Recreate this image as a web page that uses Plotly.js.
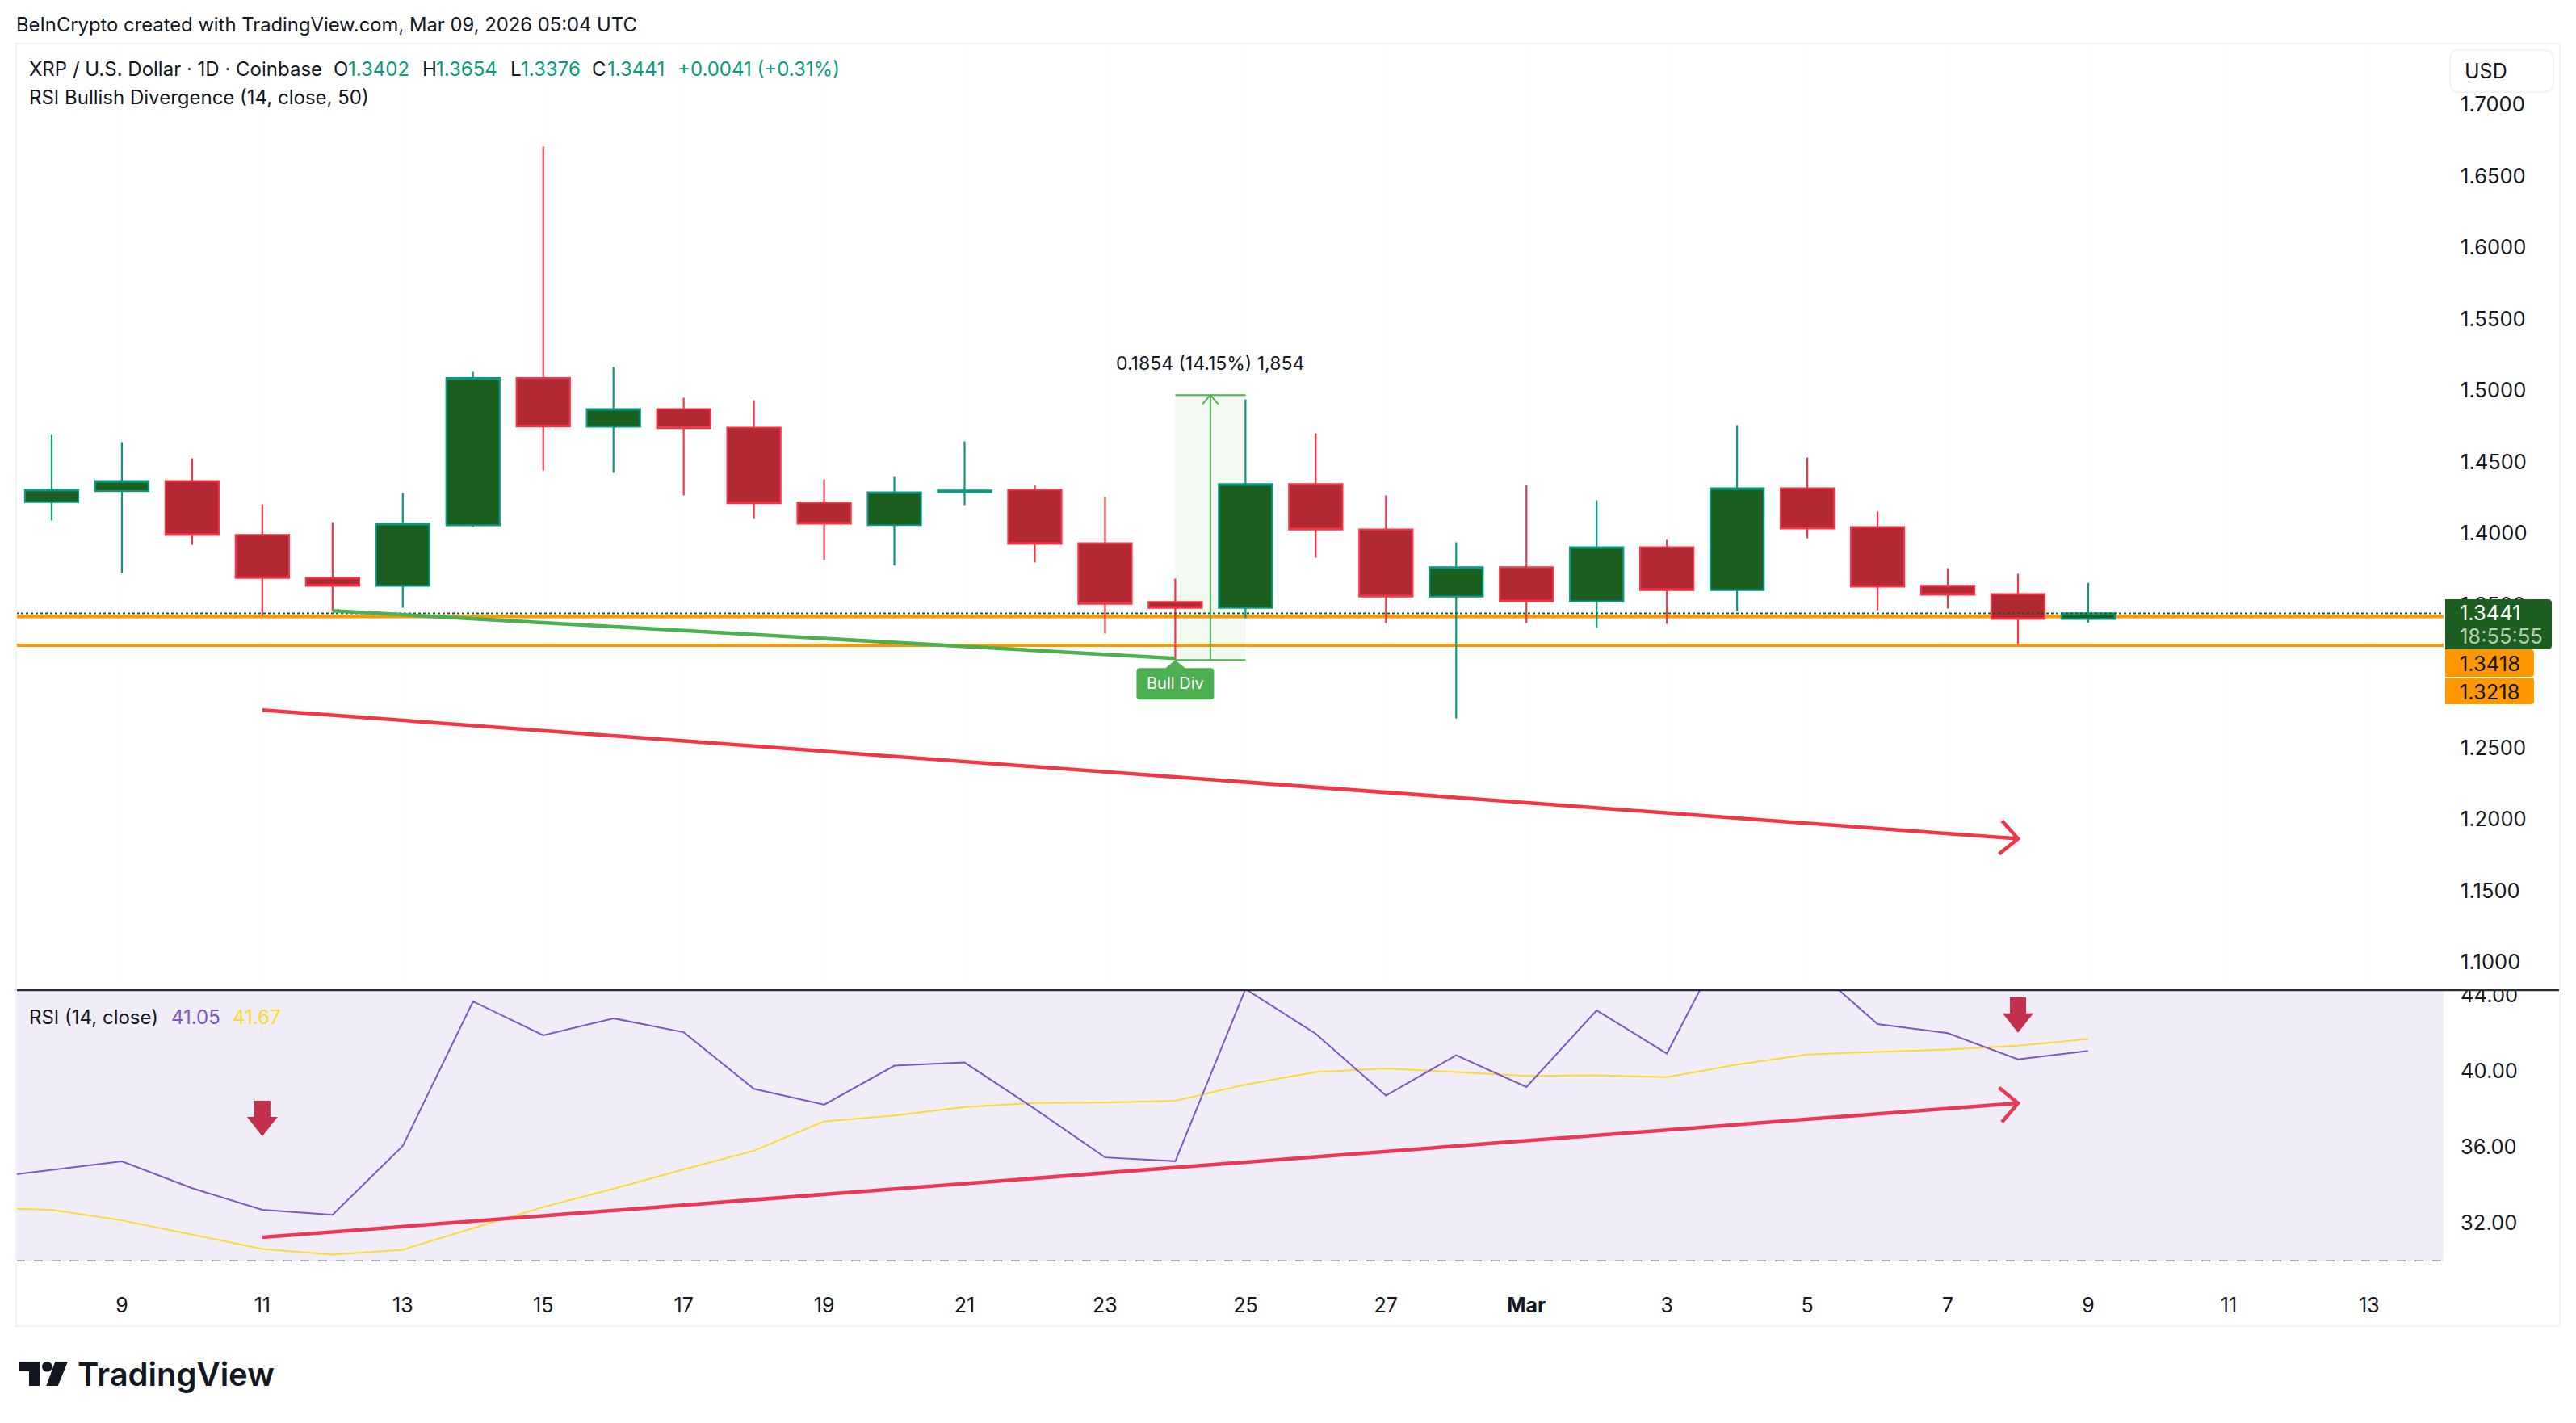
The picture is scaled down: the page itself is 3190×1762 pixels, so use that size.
<!DOCTYPE html>
<html><head><meta charset="utf-8">
<script src="https://cdn.plot.ly/plotly-3.0.1.min.js"></script>
<style>html,body{margin:0;padding:0;background:#fff}</style></head>
<body><div id="chart" style="width:3190px;height:1762px"></div>
<script>
// ---- candles ----
const dates = ['2026-02-08','2026-02-09','2026-02-10','2026-02-11','2026-02-12','2026-02-13','2026-02-14','2026-02-15','2026-02-16','2026-02-17','2026-02-18','2026-02-19','2026-02-20','2026-02-21','2026-02-22','2026-02-23','2026-02-24','2026-02-25','2026-02-26','2026-02-27','2026-02-28','2026-03-01','2026-03-02','2026-03-03','2026-03-04','2026-03-05','2026-03-06','2026-03-07','2026-03-08','2026-03-09'];
const opens  = [1.4220,1.4296,1.4367,1.3989,1.3689,1.3633,1.4057,1.5087,1.4746,1.4870,1.4740,1.4215,1.4058,1.4288,1.4305,1.3932,1.3520,1.3480,1.4345,1.4028,1.3559,1.3763,1.3525,1.3904,1.3604,1.4316,1.4045,1.3633,1.3576,1.3402];
const highs  = [1.4689,1.4638,1.4525,1.4203,1.4079,1.4282,1.5130,1.6706,1.5164,1.4949,1.4932,1.4379,1.4396,1.4644,1.4339,1.4254,1.3684,1.4938,1.4701,1.4265,1.3938,1.4339,1.4232,1.3955,1.4757,1.4531,1.4153,1.3757,1.3718,1.3654];
const lows   = [1.4090,1.3723,1.3921,1.3424,1.3458,1.3480,1.4045,1.4441,1.4424,1.4266,1.4102,1.3813,1.3776,1.4198,1.3797,1.3299,1.3115,1.3407,1.3831,1.3373,1.2706,1.3373,1.3339,1.3367,1.3458,1.3966,1.3463,1.3475,1.3220,1.3376];
const closes = [1.4305,1.4367,1.3989,1.3689,1.3633,1.4068,1.5087,1.4748,1.4870,1.4737,1.4211,1.4068,1.4288,1.4300,1.3927,1.3508,1.3480,1.4345,1.4028,1.3559,1.3763,1.3525,1.3904,1.3604,1.4316,1.4034,1.3627,1.3571,1.3401,1.3441];
// ---- RSI pane ----
const rsiDates = ['2026-02-07'].concat(dates);
const rsiValues = [34.34,34.79,35.24,33.83,32.70,32.43,36.05,43.65,41.87,42.76,42.03,39.05,38.22,40.27,40.44,38.00,35.45,35.25,44.30,41.95,38.70,40.82,39.15,43.18,40.91,48.00,45.70,42.46,41.98,40.60,41.05];
const rsiMaValues = [32.80,32.70,32.14,31.39,30.64,30.34,30.60,31.73,32.84,33.80,34.82,35.80,37.34,37.65,38.10,38.31,38.33,38.43,39.28,39.93,40.13,39.93,39.73,39.76,39.67,40.33,40.86,41.00,41.12,41.32,41.67];
// ---- price levels ----
const lastPrice = 1.3441, levelA = 1.3418, levelB = 1.3218, rsiFloor = 30;
// ---- drawings ----
const priceArrowX = ['2026-02-11','2026-03-08'];
const priceArrowY = [1.2764,1.1864];
const priceHeadX = ['2026-03-07 18:30','2026-03-08','2026-03-07 17:30'];
const priceHeadY = [1.1990,1.1864,1.1757];
const rsiArrowX = ['2026-02-11','2026-03-08'];
const rsiArrowY = [31.25,38.30];
const rsiHeadX = ['2026-03-07 17:30','2026-03-08','2026-03-07 18:30'];
const rsiHeadY = [39.12,38.30,37.30];
const divX = ['2026-02-12','2026-02-24'];
const divY = [1.3459,1.3126];
const measureX0 = '2026-02-24', measureX1 = '2026-02-25', measureMid = '2026-02-24 12:00';
const measureLow = 1.3115, measureHigh = 1.4968;
const measureHeadX = ['2026-02-24 09:15','2026-02-24 12:00','2026-02-24 14:45'];
const measureHeadY = [1.4903,1.4968,1.4903];
// ---- axis labels ----
const priceTicks = [1.10,1.15,1.20,1.25,1.35,1.40,1.45,1.50,1.55,1.60,1.65,1.70];
const rsiTicks = [32,36,40,44];
const dayTickVals = ['2026-02-09','2026-02-11','2026-02-13','2026-02-15','2026-02-17','2026-02-19','2026-02-21','2026-02-23','2026-02-25','2026-02-27','2026-03-01','2026-03-03','2026-03-05','2026-03-07','2026-03-09','2026-03-11','2026-03-13'];
const dayTickText = ['9','11','13','15','17','19','21','23','25','27','<b>Mar</b>','3','5','7','9','11','13'];

const W = 3190, H = 1762, FONT = 'Inter, "Noto Sans", sans-serif';
const INK = '#131722', UP = '#089981', DOWN = '#F23645', UPFILL = '#1B5E20', DOWNFILL = '#B22833';
const GREEN = '#4CAF50', ORANGE = '#FF9800', RED = '#F23645', REDLAV = '#EC3858', PURPLE = '#7E57C2', YELLOW = '#FDD835';
const px = v => v / W, py = v => 1 - v / H;

function line(x, y, color, width, dash, xa, ya) {
  return {type:'scatter', mode:'lines', x, y, xaxis:'x', yaxis:ya || 'y', hoverinfo:'skip', showlegend:false,
          line:{color, width, dash:dash || 'solid', shape:'linear'}};
}
const xL = '2026-02-07 11:52', xR = '2026-03-14 01:26';
const traces = [
  {type:'candlestick', x:dates, open:opens, high:highs, low:lows, close:closes, xaxis:'x', yaxis:'y', showlegend:false, hoverinfo:'skip',
   increasing:{line:{color:UP,width:2.2}, fillcolor:UPFILL},
   decreasing:{line:{color:DOWN,width:2.2}, fillcolor:DOWNFILL}, whiskerwidth:0},
  line([xL,xR],[lastPrice,lastPrice],UPFILL,2,'3px,3px'),
  line(divX,divY,GREEN,4.5),
  line([measureX0,measureX1],[measureHigh,measureHigh],GREEN,2),
  line([measureX0,measureX1],[measureLow,measureLow],GREEN,2),
  line([measureMid,measureMid],[measureLow,measureHigh],GREEN,2),
  line(measureHeadX,measureHeadY,GREEN,2),
  line(priceArrowX,priceArrowY,RED,4.5),
  line(priceHeadX,priceHeadY,RED,4.5),
  line([xL,xR],[rsiFloor,rsiFloor],'#787B86',2,'11px,11px',null,'y2'),
  line(rsiDates,rsiMaValues,YELLOW,2,null,null,'y2'),
  line(rsiDates,rsiValues,PURPLE,2,null,null,'y2'),
  line(rsiArrowX,rsiArrowY,REDLAV,4.5,null,null,'y2'),
  line(rsiHeadX,rsiHeadY,REDLAV,4.5,null,null,'y2')
];

// rounded rectangle in paper fractions, from picture pixels
function rr(x0,y0,x1,y1,rl,rr_) {
  const X=px,Y=py;
  return `M${X(x0+rl)},${Y(y0)} L${X(x1-rr_)},${Y(y0)} Q${X(x1)},${Y(y0)} ${X(x1)},${Y(y0+rr_)} L${X(x1)},${Y(y1-rr_)} Q${X(x1)},${Y(y1)} ${X(x1-rr_)},${Y(y1)} L${X(x0+rl)},${Y(y1)} Q${X(x0)},${Y(y1)} ${X(x0)},${Y(y1-rl)} L${X(x0)},${Y(y0+rl)} Q${X(x0)},${Y(y0)} ${X(x0+rl)},${Y(y0)} Z`;
}
const paperPath = (path, fill, stroke, w, layer) => ({type:'path', xref:'paper', yref:'paper', path, fillcolor:fill, line:{color:stroke||'rgba(0,0,0,0)', width:w||0}, layer:layer||'above'});
const poly = pts => 'M' + pts.map(p => `${px(p[0])},${py(p[1])}`).join(' L') + ' Z';
const downArrow = (x, y) => ({type:'path', xref:'x', yref:'y2', xsizemode:'pixel', ysizemode:'pixel', xanchor:x, yanchor:y, fillcolor:'#C2314B', line:{width:0}, layer:'above',
  path:'M0,0 L19,24 L10,24 L10,44 L-10,44 L-10,24 L-19,24 Z'});

const shapes = [
  // RSI pane background
  {type:'rect', xref:'x', yref:'y2 domain', x0:xL, x1:xR, y0:0, y1:1, fillcolor:'#F0EDF8', line:{width:0}, layer:'below'},
  // horizontal levels
  {type:'line', xref:'x', yref:'y', x0:xL, x1:xR, y0:levelA, y1:levelA, line:{color:ORANGE,width:4}, layer:'below'},
  {type:'line', xref:'x', yref:'y', x0:xL, x1:xR, y0:levelB, y1:levelB, line:{color:ORANGE,width:4}, layer:'below'},
  // measure box
  {type:'rect', xref:'x', yref:'y', x0:measureX0, x1:measureX1, y0:measureLow, y1:measureHigh, fillcolor:'rgba(76,175,80,0.08)', line:{width:0}, layer:'below'},
  // Bull Div flag
  {type:'path', xref:'x', yref:'y', xsizemode:'pixel', ysizemode:'pixel', xanchor:'2026-02-24', yanchor:measureLow, fillcolor:GREEN, line:{width:0}, layer:'above',
   path:'M0,0 L12,-10 L44,-10 Q48,-10 48,-14 L48,-45 Q48,-49 44,-49 L-44,-49 Q-48,-49 -48,-45 L-48,-14 Q-48,-10 -44,-10 L-12,-10 Z'},
  downArrow('2026-02-11',36.56),
  downArrow('2026-03-08',42.00),
  // clip of the axis label at the pane divider
  paperPath(poly([[3027,1212],[3168,1212],[3168,1225],[3027,1225]]),'#FFFFFF'),
  // pane divider
  {type:'line', xref:'paper', yref:'paper', x0:px(20), x1:px(3170), y0:py(1226), y1:py(1226), line:{color:'#2A2E39',width:2.5}, layer:'above'},
  // chart frame
  {type:'rect', xref:'paper', yref:'paper', x0:px(20), x1:px(3170), y0:py(54), y1:py(1642), fillcolor:'rgba(0,0,0,0)', line:{color:'#F2F3F6',width:2}, layer:'above'},
  // USD button
  paperPath(rr(3034,62,3162,114,12,12),'#FFFFFF','#F0F3FA',2),
  // price tags
  paperPath(rr(3028,742,3160,804,0,5),UPFILL),
  paperPath(rr(3028,804,3138,838,0,4),ORANGE),
  paperPath(rr(3028,839,3138,872,0,4),ORANGE),
  // TradingView mark
  paperPath(poly([[24,1686],[49,1686],[49,1716],[36,1716],[36,1698],[24,1698]]),INK),
  {type:'circle', xref:'paper', yref:'paper', x0:px(52), x1:px(64.6), y0:py(1686), y1:py(1698.6), fillcolor:INK, line:{width:0}, layer:'above'},
  paperPath(poly([[68.3,1686],[84,1686],[71.7,1716],[57.3,1716]]),INK)
];

const note = (text, x, y, color, size, weight) => ({text, xref:'paper', yref:'paper', x:px(x), y:py(y), xanchor:'left', yanchor:'middle', showarrow:false, borderpad:0, borderwidth:0,
  font:{family:FONT, size:size||24, color:color||INK, weight:weight||400}});
const annotations = [
  note('BeInCrypto created with TradingView.com, Mar 09, 2026 05:04 UTC',20,31,INK,23.8),
  note('XRP / U.S. Dollar · 1D · Coinbase',36,86),
  note('O',413,86), note('1.3402',431,86,UP),
  note('H',523,86), note('1.3654',540,86,UP),
  note('L',632,86), note('1.3376',645,86,UP),
  note('C',733,86), note('1.3441',752,86,UP),
  note('+0.0041 (+0.31%)',839,86,UP),
  note('RSI Bullish Divergence (14, close, 50)',36,120),
  note('RSI (14, close)',36,1259),
  note('41.05',212,1259,PURPLE),
  note('41.67',288,1259,YELLOW),
  note('USD',3052,88,INK,25),
  note('1.3441',3046,758,'#FFFFFF',25.5),
  note('18:55:55',3046,787,'rgba(255,255,255,0.7)',25.5),
  note('1.3418',3046,821,INK,25.5),
  note('1.3218',3046,856,INK,25.5),
  note('TradingView',96,1701,INK,40,600),
  {text:'0.1854 (14.15%) 1,854', xref:'x', yref:'y', x:measureMid, y:1.5189, xanchor:'center', yanchor:'middle', showarrow:false, borderpad:0, borderwidth:0, font:{family:FONT,size:23,color:INK}},
  {text:'Bull Div', xref:'x', yref:'y', x:'2026-02-24', y:1.2952, xanchor:'center', yanchor:'middle', showarrow:false, borderpad:0, borderwidth:0, font:{family:FONT,size:20,color:'#FFFFFF'}}
];

const layout = {
  width:W, height:H, margin:{l:0,r:0,t:0,b:0}, paper_bgcolor:'#FFFFFF', plot_bgcolor:'#FFFFFF', showlegend:false,
  font:{family:FONT,size:25,color:INK}, boxgap:0.24, boxgroupgap:0,
  xaxis:{type:'date', domain:[px(20),px(3026)], range:[xL,xR], anchor:'y2', rangeslider:{visible:false}, tickmode:'array', tickvals:dayTickVals, ticktext:dayTickText,
         showgrid:true, gridcolor:'rgba(0,0,0,0.012)', gridwidth:1, zeroline:false, showline:false, ticks:'outside', ticklen:32, tickcolor:'rgba(0,0,0,0)', tickfont:{family:FONT,size:25,color:INK}, tickangle:0},
  yaxis:{domain:[py(1226),py(54)], range:[1.0805,1.74266], side:'right', anchor:'x', tickmode:'array', tickvals:priceTicks, tickformat:'.4f', showgrid:false, zeroline:false, showline:false,
         ticks:'outside', ticklen:15, tickcolor:'rgba(0,0,0,0)', tickfont:{family:FONT,size:25.5,color:INK}},
  yaxis2:{domain:[py(1562),py(1227)], range:[29.98,44.2], side:'right', anchor:'x', tickmode:'array', tickvals:rsiTicks, tickformat:'.2f', showgrid:false, zeroline:false, showline:false,
         ticks:'outside', ticklen:15, tickcolor:'rgba(0,0,0,0)', tickfont:{family:FONT,size:25.5,color:INK}},
  shapes, annotations
};
Plotly.newPlot('chart', traces, layout, {staticPlot:true, displayModeBar:false});
</script></body></html>
